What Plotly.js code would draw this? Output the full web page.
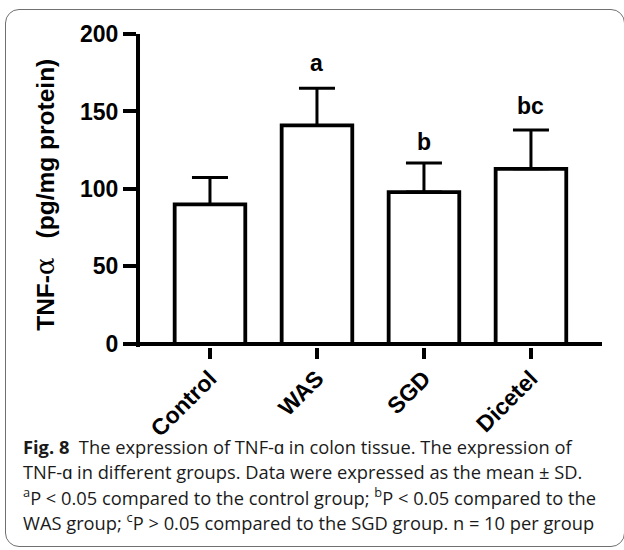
<!DOCTYPE html>
<html>
<head>
<meta charset="utf-8">
<script src="https://cdn.plot.ly/plotly-3.0.1.min.js"></script>
<style>
  html, body { margin: 0; padding: 0; background: #fff; }
  #wrap { position: relative; width: 624px; height: 550px; overflow: hidden; }
  #frame { position: absolute; left: 5px; top: 9px; width: 620px; height: 538px;
           border: 1.3px solid #707070; border-radius: 14px; box-sizing: border-box; }
  #chart { position: absolute; left: 0; top: 0; width: 624px; height: 550px; }
</style>
</head>
<body>
<div id="wrap">
  <div id="frame"></div>
  <div id="chart"></div>
</div>
<script>
// ---- data ----
const categories = ["Control", "WAS", "SGD", "Dicetel"];
const means = [90, 141, 98, 113];
const sd = [17.4, 24, 18.7, 25];
const sigLabels = ["", "a", "b", "bc"];
const sigLabelY = [0, 181.5, 130, 153.6];
const yTicks = [0, 50, 100, 150, 200];
const yTitle = "TNF-<span style=\"font-family:'DejaVu Serif';font-weight:400;font-size:26px\">α</span>\u2002 (pg/mg protein)";
const captionLines = [
  "<b>Fig. 8</b>  The expression of TNF-ɑ in colon tissue. The expression of",
  "TNF-ɑ in different groups. Data were expressed as the mean ± SD.",
  "<sup>a</sup>P < 0.05 compared to the control group; <sup>b</sup>P < 0.05 compared to the",
  "WAS group; <sup>c</sup>P > 0.05 compared to the SGD group. n = 10 per group"
];

// ---- layout geometry ----
const W = 624, H = 550;
const M = { l: 140, r: 22, t: 34, b: 202.6 };
const plotH = H - M.t - M.b, plotW = W - M.l - M.r;
const pxToPaperY = Y => (H - M.b - Y) / plotH;
const pxToPaperX = X => (X - M.l) / plotW;

const boldFont = { family: "'Liberation Sans', Arial, sans-serif", size: 23, color: "#000", weight: 700 };
const titleFont = Object.assign({}, boldFont, { size: 24.5 });

const trace = {
  type: "bar",
  x: categories,
  y: means,
  width: 0.66,
  marker: { color: "#ffffff", line: { color: "#000", width: 3.8 } },
  error_y: { type: "data", symmetric: false, array: sd, arrayminus: sd.map(() => 0),
             color: "#000", thickness: 3, width: 18 },
  hoverinfo: "skip"
};

const annotations = [];
categories.forEach((c, i) => {
  if (sigLabels[i]) {
    annotations.push({ x: c, y: sigLabelY[i], xref: "x", yref: "y", text: sigLabels[i],
      showarrow: false, xanchor: "center", yanchor: "middle", font: boldFont });
  }
});
// y-axis title
annotations.push({ x: pxToPaperX(45), y: pxToPaperY(195), xref: "paper", yref: "paper",
  text: yTitle, textangle: -90, showarrow: false, xanchor: "center", yanchor: "middle",
  font: titleFont });
const capY = [447, 472, 497, 522];
captionLines.forEach((t, i) => {
  annotations.push({ x: pxToPaperX(21), y: pxToPaperY(capY[i]), xref: "paper", yref: "paper",
    text: t, showarrow: false, xanchor: "left", yanchor: "middle", align: "left",
    font: { family: "'Open Sans', sans-serif", size: 18.3, color: "#1a1a1a" } });
});

const layout = {
  width: W, height: H,
  margin: M,
  paper_bgcolor: "rgba(0,0,0,0)",
  plot_bgcolor: "rgba(0,0,0,0)",
  showlegend: false,
  xaxis: {
    type: "category",
    range: [-0.654, 3.664],
    showline: false,
    ticks: "outside", ticklen: 11, tickwidth: 4, tickcolor: "#000",
    tickangle: -45,
    ticklabelstandoff: -3,
    tickfont: boldFont,
    showgrid: false, zeroline: false, fixedrange: true, automargin: false
  },
  yaxis: {
    range: [-2, 200],
    tickvals: yTicks,
    ticktext: yTicks.map(String),
    showline: true, linecolor: "#000", linewidth: 4,
    ticks: "outside", ticklen: 13, tickwidth: 4, tickcolor: "#000",
    tickfont: boldFont,
    showgrid: false,
    zeroline: true, zerolinecolor: "#000", zerolinewidth: 4, zerolinelayer: "above traces",
    fixedrange: true, automargin: false
  },
  annotations: annotations
};

Plotly.newPlot("chart", [trace], layout, { displayModeBar: false, staticPlot: true });
</script>
</body>
</html>
